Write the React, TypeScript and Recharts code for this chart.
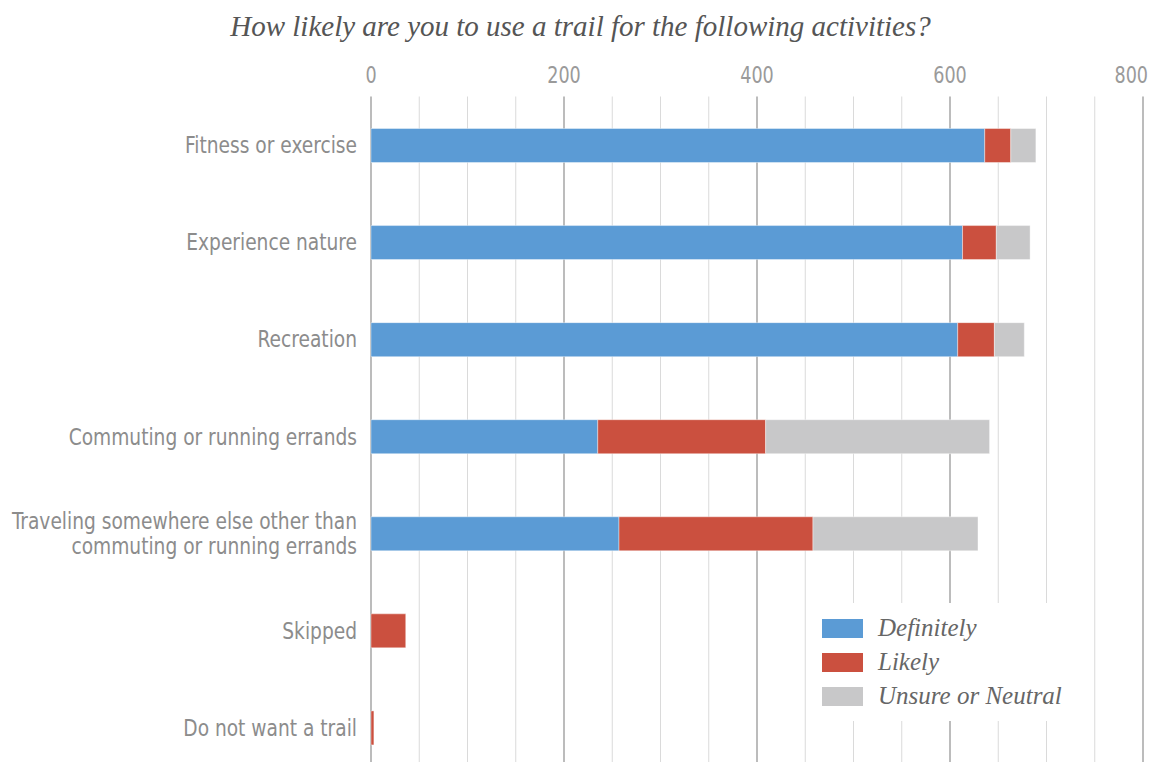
import React from 'react'
import { BarChart, Bar, XAxis, YAxis, CartesianGrid, Legend } from 'recharts'

const categories = [
  'Fitness or exercise',
  'Experience nature',
  'Recreation',
  'Commuting or running errands',
  'Traveling somewhere else other than commuting or running errands',
  'Skipped',
  'Do not want a trail',
]
const definitely = [636, 613, 608, 235, 257, 0, 0]
const likely = [27, 35, 38, 174, 201, 36, 3]
const unsure = [26, 35, 31, 232, 171, 0, 0]

const xTicks = [0, 200, 400, 600, 800]
const minorTicks = [50, 100, 150, 250, 300, 350, 450, 500, 550, 650, 700, 750]

const series = [
  { key: 'Definitely', color: '#5b9bd5', values: definitely },
  { key: 'Likely', color: '#cb503f', values: likely },
  { key: 'Unsure or Neutral', color: '#c8c8c9', values: unsure },
]

const chartData = categories.map((name, i) => {
  const row: Record<string, string | number> = { name }
  series.forEach(s => { row[s.key] = s.values[i] })
  return row
})

const labelFont = '"DejaVu Sans Condensed", "DejaVu Sans", sans-serif'
const serifFont = '"Liberation Serif", "DejaVu Serif", serif'
const squeeze = 0.9 // fake a condensed face

// wraps the long category onto two lines like the original
function CategoryTick(props: any) {
  const { x, y, payload } = props
  const text: string = payload.value
  const cut = text.indexOf(' commuting')
  const lines = text.length > 40 ? [text.slice(0, cut), text.slice(cut + 1)] : [text]
  const lh = 25
  const startY = -((lines.length - 1) * lh) / 2
  return (
    <g transform={`translate(${x - 6},${y}) scale(${squeeze},1)`}>
      <text x={0} y={startY} textAnchor="end" fill="#8c8c8c" fontSize={23} fontFamily={labelFont}>
        {lines.map((l, i) => (
          <tspan key={i} x={0} y={startY + i * lh} dy="0.36em">{l}</tspan>
        ))}
      </text>
    </g>
  )
}

// the last label sits on the page edge, so keep it inside
function ValueTick(props: any) {
  const { x, y, payload, index } = props
  const last = index === xTicks.length - 1
  return (
    <g transform={`translate(${last ? x + 8 : x},${y}) scale(0.85,1)`}>
      <text x={0} y={0} textAnchor={last ? 'end' : 'middle'} fill="#9a9a9a" fontSize={23} fontFamily={labelFont}>
        {payload.value}
      </text>
    </g>
  )
}

function LegendBox() {
  return (
    <div style={{ background: '#fff', padding: '8px 10px 8px 8px', width: 242 }}>
      {series.map(s => (
        <div key={s.key} style={{ display: 'flex', alignItems: 'center', height: 34 }}>
          <span style={{ display: 'inline-block', width: 41, height: 19, background: s.color, marginRight: 15 }} />
          <span style={{ fontFamily: serifFont, fontStyle: 'italic', fontSize: 25, color: '#666' }}>{s.key}</span>
        </div>
      ))}
    </div>
  )
}

export default function App() {
  return (
    <div style={{ position: 'relative', width: 1144, height: 754, overflow: 'hidden' }}>
      <div style={{
        position: 'absolute', top: 2, left: 0, width: 1145, textAlign: 'center',
        fontFamily: serifFont, fontStyle: 'italic', fontSize: 29, color: '#555',
      }}>
        How likely are you to use a trail for the following activities?
      </div>
      <BarChart
        width={1144}
        height={768}
        data={chartData}
        layout="vertical"
        margin={{ top: 0, right: 9, bottom: 0, left: 0 }}
        barSize={34}
      >
        <CartesianGrid horizontal={false} verticalValues={minorTicks} stroke="#dadada" />
        <CartesianGrid horizontal={false} verticalValues={xTicks} stroke="#a6a6a6" strokeWidth={1.5} />
        <XAxis
          type="number"
          orientation="top"
          domain={[0, 800]}
          ticks={xTicks}
          height={88.5}
          axisLine={false}
          tickLine={false}
          tickMargin={8}
          tick={<ValueTick />}
        />
        <YAxis
          type="category"
          dataKey="name"
          width={363}
          axisLine={false}
          tickLine={false}
          tick={<CategoryTick />}
          interval={0}
        />
        <Legend
          layout="horizontal"
          verticalAlign="middle"
          align="center"
          content={<LegendBox />}
          wrapperStyle={{ position: 'absolute', left: 806, top: 595, width: 260 }}
        />
        {series.map(s => (
          <Bar key={s.key} dataKey={s.key} stackId="a" fill={s.color} stroke="rgba(255,255,255,0.4)" strokeWidth={1} isAnimationActive={false} />
        ))}
      </BarChart>
    </div>
  )
}
